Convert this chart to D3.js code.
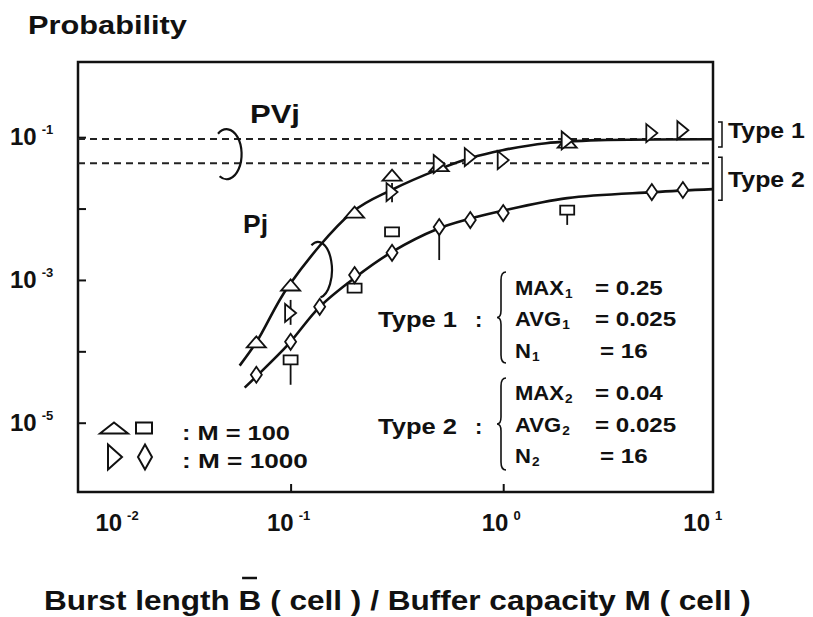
<!DOCTYPE html>
<html>
<head>
<meta charset="utf-8">
<script src="https://cdn.jsdelivr.net/npm/d3@7"></script>
<style>
  body { margin: 0; background: #fff; }
  svg text { font-family: "Liberation Sans", Arial, sans-serif; font-weight: bold; fill: #111; }
</style>
</head>
<body>
<div id="chart"></div>
<script>
// ---- values ----
const xTickValues = [0.01, 0.1, 1, 10];
const xTickExps = ["-2", "-1", "0", "1"];
const yTickValues = [1e-5, 1e-4, 1e-3, 1e-2, 1e-1];
const yLabelValues = [1e-5, 1e-3, 1e-1];
const yLabelExps = ["-5", "-3", "-1"];

// PVj levels (dashed)
const pvType1 = 0.094;
const pvType2 = 0.043;

// Pj curves (solid)
const pjCurveType1 = [[0.0576, 6.3e-5], [0.0692, 1.36e-4], [0.098, 8.3e-4], [0.195, 8.9e-3],
  [0.298, 0.0182], [0.5, 0.0357], [0.708, 0.0515], [0.99, 0.0657], [1.59, 0.0824], [2.82, 0.0908], [9.7, 0.0937]];
const pjCurveType2 = [[0.0608, 3.1e-5], [0.0692, 4.5e-5], [0.097, 1.23e-4], [0.137, 4.2e-4], [0.2, 1.07e-3],
  [0.3, 2.47e-3], [0.49, 5.16e-3], [0.69, 7.13e-3], [0.98, 9.23e-3], [2.0, 0.014], [5.1, 0.017], [9.7, 0.0187]];

// simulation points
const type1M100 = [[0.069, 1.36e-4], [0.1, 8.5e-4], [0.2, 8.9e-3], [0.3, 0.0294], [0.5, 0.040], [2.0, 0.085]];
const type1M1000 = [[0.1, 3.45e-4], [0.3, 0.017], [0.5, 0.042], [0.7, 0.0525], [1.0, 0.0477], [2.0, 0.09], [5.0, 0.114], [7.0, 0.125]];
const type2M100 = [[0.1, 7.6e-5], [0.2, 7.7e-4], [0.3, 4.7e-3], [2.0, 9.5e-3]];
const type2M1000 = [[0.069, 4.7e-5], [0.1, 1.36e-4], [0.137, 4.2e-4], [0.2, 1.17e-3], [0.3, 2.4e-3], [0.5, 5.5e-3],
  [0.7, 6.9e-3], [1.0, 8.65e-3], [5.0, 0.017], [7.0, 0.0182]];

// error bars [x, low, high]
const errorBars = [[0.1, 2.35e-4, 5.25e-4], [0.3, 0.0123, 0.0228], [0.1, 3.4e-5, 7.6e-5], [0.5, 1.9e-3, 5.5e-3], [2.0, 5.9e-3, 9.5e-3]];

// traffic parameters
const type1Params = [["MAX", "1", "= 0.25"], ["AVG", "1", "= 0.025"], ["N", "1", "= 16"]];
const type2Params = [["MAX", "2", "= 0.04"], ["AVG", "2", "= 0.025"], ["N", "2", "= 16"]];
const legendLabels = [": M = 100", ": M = 1000"];

// ---- layout ----
const width = 813, height = 617;
const plot = { left: 78, right: 713, top: 62, bottom: 492 };

const svg = d3.select("#chart").append("svg")
  .attr("width", width).attr("height", height);

const x = d3.scaleLog().domain([0.01, 9.7]).range([plot.left, plot.right]);
const y = d3.scaleLog().domain([1.07e-6, 1.13]).range([plot.bottom, plot.top]);

// text helper: placed by translate, optionally stretched horizontally
function addText(parent, tx, ty, size, anchor, sx) {
  return parent.append("text")
    .attr("transform", `translate(${tx},${ty}) scale(${sx || 1},1)`)
    .attr("font-size", size)
    .attr("text-anchor", anchor || "start");
}
function fitWidth(t, w) {
  const n = t.node().getComputedTextLength();
  const tr = t.attr("transform").replace(/scale\([^)]*\)/, `scale(${w / n},1)`);
  t.attr("transform", tr);
}

// Y axis ticks (inward)
svg.append("g")
  .attr("transform", `translate(${plot.left},0)`)
  .call(d3.axisLeft(y).tickValues(yTickValues).tickSize(-8).tickFormat(() => ""))
  .call(g => g.select(".domain").remove())
  .call(g => g.selectAll("line").attr("stroke", "#111").attr("stroke-width", 2));

// X axis ticks (inward)
svg.append("g")
  .attr("transform", `translate(0,${plot.bottom})`)
  .call(d3.axisBottom(x).tickValues([0.1, 1]).tickSize(-8).tickFormat(() => ""))
  .call(g => g.select(".domain").remove())
  .call(g => g.selectAll("line").attr("stroke", "#111").attr("stroke-width", 2));

// frame
svg.append("rect")
  .attr("x", plot.left).attr("y", plot.top)
  .attr("width", plot.right - plot.left).attr("height", plot.bottom - plot.top)
  .attr("fill", "none").attr("stroke", "#111").attr("stroke-width", 2.5);

// tick labels
yLabelValues.forEach((v, i) => {
  const t = addText(svg, 10, y(v) + 8, 24, "start");
  t.append("tspan").text("10");
  t.append("tspan").attr("dx", 5).attr("dy", -11).attr("font-size", 13).text(yLabelExps[i]);
});
xTickValues.forEach((v, i) => {
  const shift = v <= 0.01 ? 39 : (v >= 10 ? -13 : -2);
  const t = addText(svg, x(v) + shift, 531, 24, "middle");
  t.append("tspan").text("10");
  t.append("tspan").attr("dx", 5).attr("dy", -11).attr("font-size", 13).text(xTickExps[i]);
});

// titles
fitWidth(addText(svg, 28, 34, 26, "start").text("Probability"), 159);
const xTitle = addText(svg, 44, 610, 28, "start").text("Burst length B ( cell ) / Buffer capacity M ( cell )");
const natural = xTitle.node().getComputedTextLength();
const bStart = xTitle.node().getSubStringLength(0, 13);
const bWidth = xTitle.node().getSubStringLength(13, 1);
fitWidth(xTitle, 707);
const sxTitle = 707 / natural;
svg.append("line")
  .attr("x1", 44 + sxTitle * (bStart + 3)).attr("x2", 44 + sxTitle * (bStart + bWidth - 4))
  .attr("y1", 578).attr("y2", 578)
  .attr("stroke", "#111").attr("stroke-width", 2.5);

// PVj dashed levels
svg.append("g").selectAll("line")
  .data([pvType1, pvType2])
  .join("line")
  .attr("x1", plot.left).attr("x2", plot.right)
  .attr("y1", d => y(d)).attr("y2", d => y(d))
  .attr("stroke", "#222").attr("stroke-width", 2)
  .attr("stroke-dasharray", "7,5");

// Pj curves
const line = d3.line()
  .x(d => x(d[0])).y(d => y(d[1]))
  .curve(d3.curveCatmullRom.alpha(0.5));
svg.append("g").selectAll("path")
  .data([pjCurveType1, pjCurveType2])
  .join("path")
  .attr("d", line)
  .attr("fill", "none").attr("stroke", "#111").attr("stroke-width", 2.6);

// error bars
svg.append("g").selectAll("line")
  .data(errorBars)
  .join("line")
  .attr("x1", d => x(d[0])).attr("x2", d => x(d[0]))
  .attr("y1", d => y(d[1])).attr("y2", d => y(d[2]))
  .attr("stroke", "#111").attr("stroke-width", 1.8);

// marker shapes (w x h, centred)
function shape(kind, w, h) {
  const a = w / 2, b = h / 2;
  if (kind === "up") return `M${-a},${b}L0,${-b}L${a},${b}Z`;
  if (kind === "right") return `M${-a},${-b}L${a},0L${-a},${b}Z`;
  if (kind === "square") return `M${-a},${-b}H${a}V${b}H${-a}Z`;
  return `M0,${-b}L${a},0L0,${b}L${-a},0Z`;
}
const series = [
  { pts: type2M100, kind: "square", w: 14, h: 9 },
  { pts: type2M1000, kind: "diamond", w: 11, h: 16 },
  { pts: type1M100, kind: "up", w: 19, h: 11 },
  { pts: type1M1000, kind: "right", w: 11, h: 18 }
];
series.forEach(s => {
  svg.append("g").selectAll("path")
    .data(s.pts)
    .join("path")
    .attr("transform", d => `translate(${x(d[0])},${y(d[1])})`)
    .attr("d", shape(s.kind, s.w, s.h))
    .attr("fill", "#fff").attr("stroke", "#111").attr("stroke-width", 1.8);
});

// ellipse-arc bracket helper
function arcPath(cx, cy, rx, ry, a0, a1) {
  const p = a => [cx + rx * Math.cos(a * Math.PI / 180), cy + ry * Math.sin(a * Math.PI / 180)];
  const s = p(a0), e = p(a1);
  const large = (a1 - a0) > 180 ? 1 : 0;
  return `M${s[0]},${s[1]}A${rx},${ry} 0 ${large} 1 ${e[0]},${e[1]}`;
}
const pvMid = (y(pvType1) + y(pvType2)) / 2;
svg.append("path")
  .attr("d", arcPath(x(0.05), pvMid + 3, 15, 25, -125, 118))
  .attr("fill", "none").attr("stroke", "#111").attr("stroke-width", 2.2);
svg.append("path")
  .attr("d", arcPath(x(0.1345), y(1.38e-3), 14, 28, -118, 80))
  .attr("fill", "none").attr("stroke", "#111").attr("stroke-width", 2.2);

fitWidth(addText(svg, 250, 123, 25, "start").text("PVj"), 50);
fitWidth(addText(svg, 243, 233, 25, "start").text("Pj"), 25);

// right side Type brackets
const end2 = pjCurveType2[pjCurveType2.length - 1][1];
const rightBrackets = [
  { top: y(pvType1) - 17, bot: y(pvType1) + 8, label: "Type 1", base: 138 },
  { top: y(pvType2) - 6, bot: y(end2) + 11, label: "Type 2", base: 187 }
];
rightBrackets.forEach(b => {
  svg.append("path")
    .attr("d", `M${plot.right + 5},${b.top}H${plot.right + 9}V${b.bot}H${plot.right + 5}`)
    .attr("fill", "none").attr("stroke", "#111").attr("stroke-width", 1.5);
  fitWidth(addText(svg, 728, b.base, 22, "start").text(b.label), 77);
});

// parameter blocks
function brace(x0, top, bot) {
  const mid = (top + bot) / 2;
  return `M${x0 + 9},${top}Q${x0 + 4},${top} ${x0 + 4},${top + 8}L${x0 + 4},${mid - 7}Q${x0 + 4},${mid} ${x0},${mid}` +
    `Q${x0 + 4},${mid} ${x0 + 4},${mid + 7}L${x0 + 4},${bot - 8}Q${x0 + 4},${bot} ${x0 + 9},${bot}`;
}
const blocks = [
  { name: "Type 1", rows: type1Params, base: 327, top: 272, bot: 363, rowBase: [295, 326, 358] },
  { name: "Type 2", rows: type2Params, base: 434, top: 378, bot: 470, rowBase: [400, 432, 463] }
];
blocks.forEach(b => {
  fitWidth(addText(svg, 378, b.base, 22, "start").text(b.name), 79);
  addText(svg, 475, b.base, 22, "start").text(":");
  svg.append("path").attr("d", brace(497, b.top, b.bot))
    .attr("fill", "none").attr("stroke", "#111").attr("stroke-width", 1.6);
  b.rows.forEach((r, i) => {
    const t = addText(svg, 515, b.rowBase[i], 21, "start", 1.05);
    t.append("tspan").text(r[0]);
    t.append("tspan").attr("dy", 3).attr("dx", 1).attr("font-size", 13).text(r[1]);
    addText(svg, i === 2 ? 600 : 595, b.rowBase[i], 21, "start", 1.15).text(r[2]);
  });
});

// legend
const legendItems = [
  [{ kind: "up", w: 28, h: 11, cx: 114 }, { kind: "square", w: 16, h: 11, cx: 144 }],
  [{ kind: "right", w: 14, h: 25, cx: 115 }, { kind: "diamond", w: 14, h: 25, cx: 145 }]
];
const legendY = [428, 457];
legendItems.forEach((row, i) => {
  row.forEach(m => {
    svg.append("path")
      .attr("transform", `translate(${m.cx},${legendY[i]})`)
      .attr("d", shape(m.kind, m.w, m.h))
      .attr("fill", "#fff").attr("stroke", "#111").attr("stroke-width", 2);
  });
  fitWidth(addText(svg, 182, legendY[i] + (i === 0 ? 12 : 11), 20, "start").text(legendLabels[i]), i === 0 ? 108 : 126);
});
</script>
</body>
</html>
